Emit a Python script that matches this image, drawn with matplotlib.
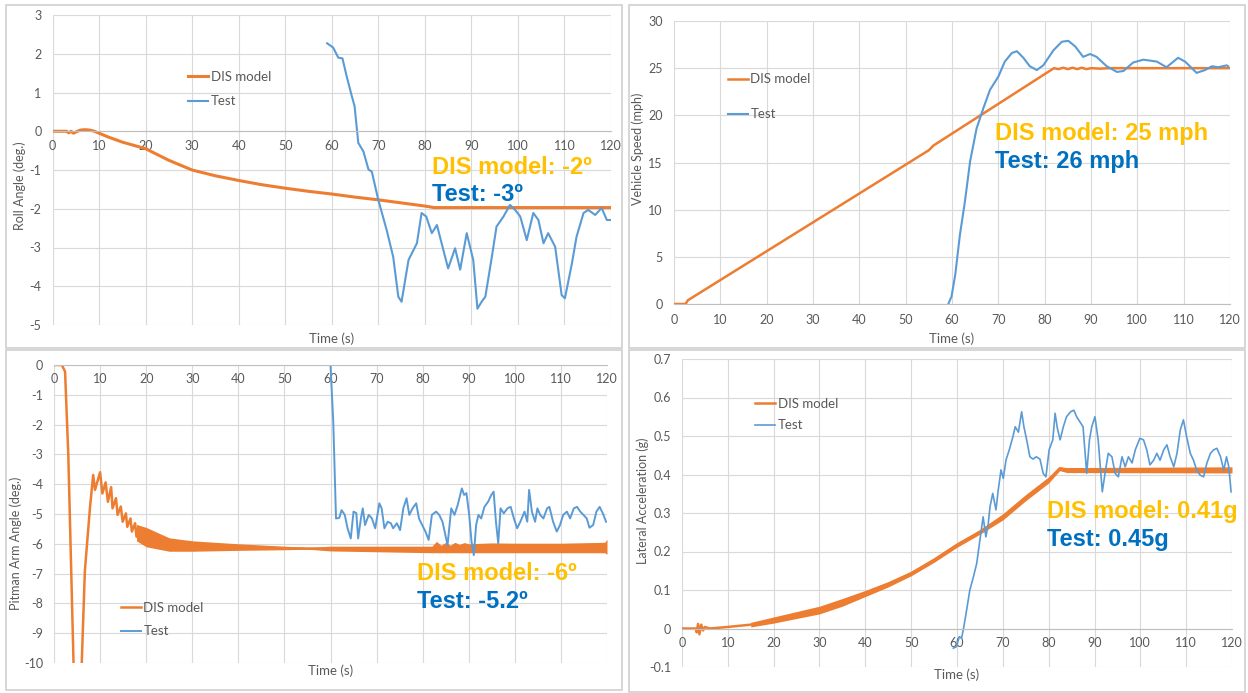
import matplotlib.pyplot as plt
from matplotlib.patches import Rectangle

plt.rcParams['font.family'] = ['Lato', 'DejaVu Sans']
plt.rcParams['axes.unicode_minus'] = False

W, H = 1248, 693
DIS_COLOR = '#ED7D31'
TEST_COLOR = '#5B9BD5'
GOLD = '#FFC000'
BLUE = '#0070C0'
GRAY = '#595959'

time_ticks = list(range(0, 121, 10))

# --- roll angle (deg.)
roll_dis_t = [0, 3, 3.5, 4, 4.5, 5, 6, 7, 8, 9, 10, 12, 15, 20, 25, 30, 35, 40, 45, 50, 55,
              60, 65, 70, 75, 80, 82, 120]
roll_dis = [0, 0, -0.04, 0.0, -0.05, -0.02, 0.03, 0.04, 0.03, 0.0, -0.05, -0.15, -0.28,
            -0.45, -0.75, -1.0, -1.15, -1.27, -1.38, -1.47, -1.55, -1.62, -1.70, -1.77,
            -1.85, -1.93, -1.97, -1.97]
roll_test_t = [59.0, 60.3, 61.4, 62.3, 63.2, 64.3, 64.9, 65.7, 66.8, 67.9, 68.6, 70.0, 71.8,
               73.2, 74.3, 75.0, 76.5, 78.3, 79.3, 80.3, 81.5, 82.6, 85.0, 86.5, 87.6, 89.0,
               90.4, 91.3, 92.2, 93.0, 94.4, 95.4, 96.9, 98.3, 99.4, 100.5, 101.9, 103.3,
               104.4, 105.5, 106.5, 108.0, 109.4, 110.1, 111.6, 112.6, 114.1, 115.1, 116.6,
               118.0, 119.1, 119.8]
roll_test = [2.27, 2.16, 1.90, 1.88, 1.42, 0.91, 0.65, -0.30, -0.52, -0.99, -1.04, -1.77,
             -2.55, -3.24, -4.27, -4.40, -3.32, -2.89, -2.11, -2.20, -2.63, -2.42, -3.54,
             -3.02, -3.57, -2.63, -3.32, -4.58, -4.40, -4.27, -3.24, -2.46, -2.20, -1.90,
             -2.03, -2.20, -2.81, -2.11, -2.29, -2.89, -2.63, -2.98, -4.23, -4.31, -3.41,
             -2.72, -2.11, -2.03, -2.16, -1.98, -2.29, -2.29]

# --- vehicle speed (mph)
speed_dis_t = [0, 2.5, 3, 55, 56, 82, 83, 84, 85, 86, 87, 88, 89, 90, 92, 94, 96, 120]
speed_dis = [0, 0, 0.4, 16.3, 16.8, 25.0, 24.9, 25.05, 24.9, 25.05, 24.9, 25.05, 24.9,
             25.0, 24.95, 25.0, 25.0, 25.0]
speed_test_t = [59.2, 59.9, 60.7, 61.7, 62.8, 63.9, 65.3, 66.8, 68.2, 70.0, 71.4, 72.9, 74.0,
                75.4, 76.8, 78.3, 79.7, 81.9, 83.7, 85.1, 86.6, 88.3, 89.8, 91.2, 93.4, 95.6,
                97.0, 99.1, 101.3, 104.2, 106.3, 108.8, 110.3, 112.8, 114.6, 116.1, 117.5,
                119.3, 119.6]
speed_test = [0, 0.8, 3.1, 7.3, 10.9, 15.1, 18.6, 20.8, 22.7, 24.1, 25.7, 26.6, 26.8, 26.1,
              25.2, 24.8, 25.3, 26.9, 27.8, 27.9, 27.3, 26.2, 26.5, 26.2, 25.2, 24.6, 24.7,
              25.6, 25.9, 25.7, 25.1, 26.1, 25.7, 24.5, 24.8, 25.2, 25.1, 25.3, 25.2]

# --- pitman arm angle (deg.)
pitman_dis_t = [0, 1.7, 2.4, 3.1, 4.4, 5.8, 6.7, 7.8, 8.5, 8.9, 10.0, 10.5, 11.2, 11.7,
                12.4, 12.7, 13.45, 13.8, 14.5, 14.9, 15.6, 15.9, 16.6, 16.9, 17.6, 17.9,
                20, 25, 30, 40, 50, 60, 82, 120]
pitman_dis = [0, 0, -0.22, -3.0, -11, -11, -6.9, -4.8, -3.69, -4.19, -3.60, -4.31, -3.94,
              -4.59, -4.10, -4.81, -4.47, -5.03, -4.75, -5.26, -4.98, -5.43, -5.15, -5.59,
              -5.31, -5.76, -5.75, -6.0, -6.08, -6.12, -6.15, -6.17, -6.2, -6.15]
pitman_band_t = [17.9, 20, 25, 30, 40, 50, 55, 60, 82, 83, 84, 85, 86, 87, 88, 89, 90, 95,
                 100, 110, 119.5, 120]
pitman_band_hi = [-5.35, -5.45, -5.8, -5.9, -6.0, -6.08, -6.12, -6.08, -6.08, -5.92, -6.05,
                  -5.95, -6.05, -5.95, -6.02, -5.96, -6.0, -5.97, -5.98, -5.98, -5.95, -5.85]
pitman_band_lo = [-5.9, -6.1, -6.25, -6.25, -6.22, -6.2, -6.18, -6.24, -6.3, -6.3, -6.3,
                  -6.3, -6.3, -6.3, -6.3, -6.3, -6.3, -6.3, -6.3, -6.3, -6.3, -6.35]
pitman_test_t = [59.9, 60.6, 61.0, 61.2, 61.9, 62.4, 63.1, 63.7, 64.4, 65.0, 65.6, 66.0,
                 66.6, 67.0, 67.5, 68.3, 69.0, 69.7, 70.6, 71.1, 71.7, 72.4, 73.1, 73.6,
                 74.4, 75.1, 75.8, 76.5, 77.1, 77.8, 78.6, 79.2, 79.9, 80.6, 81.3, 82.0,
                 82.9, 83.6, 84.3, 85.4, 86.2, 86.9, 87.6, 88.5, 89.0, 89.5, 90.1, 90.6,
                 91.1, 91.6, 92.1, 92.7, 93.4, 94.2, 94.9, 95.4, 95.9, 96.4, 96.9, 97.6,
                 98.4, 99.1, 99.8, 100.5, 101.2, 102.1, 102.7, 103.1, 103.7, 104.4, 104.9,
                 105.5, 106.2, 107.0, 107.5, 108.3, 109.1, 109.8, 110.5, 111.3, 112.0,
                 112.8, 113.5, 114.2, 114.9, 115.6, 116.2, 117.0, 117.7, 118.4, 119.1, 119.8]
pitman_test = [0.3, -1.9, -4.1, -5.15, -5.13, -4.87, -5.03, -5.48, -5.82, -4.92, -4.97,
               -5.82, -5.15, -4.81, -5.37, -5.03, -5.15, -5.48, -4.64, -4.81, -5.48, -5.26,
               -5.31, -5.48, -5.31, -5.54, -4.81, -4.47, -5.03, -4.81, -4.64, -5.15, -5.37,
               -5.59, -5.87, -5.03, -4.92, -5.03, -5.26, -6.04, -4.81, -5.03, -4.70, -4.14,
               -4.36, -4.30, -5.03, -5.93, -6.38, -5.37, -5.03, -5.15, -4.76, -4.59, -4.36,
               -4.25, -5.26, -5.98, -4.81, -4.98, -4.81, -4.76, -5.15, -5.48, -5.26, -4.92,
               -5.26, -4.19, -4.92, -5.26, -4.81, -5.03, -5.15, -4.81, -4.76, -5.26, -5.59,
               -5.37, -5.03, -4.92, -5.15, -4.81, -4.76, -4.92, -5.03, -5.15, -5.46, -5.37,
               -4.92, -4.76, -4.98, -5.26]

# --- lateral acceleration (g)
lat_dis_t = [0, 3, 3.2, 3.5, 3.8, 4.2, 4.6, 5, 6, 10, 15, 20, 25, 30, 35, 40, 45, 50, 55,
             60, 65, 70, 75, 80, 82.4, 84, 120]
lat_dis = [0, 0, -0.01, 0.012, -0.015, 0.01, -0.005, 0.004, 0, 0.004, 0.01, 0.022, 0.035,
           0.048, 0.068, 0.091, 0.115, 0.143, 0.178, 0.217, 0.251, 0.29, 0.34, 0.386,
           0.416, 0.412, 0.412]
lat_band_t = [15, 20, 25, 30, 35, 40, 45, 50, 55, 60, 65, 70, 75, 80, 82.4, 84, 120]
lat_band_lo = [0.004, 0.014, 0.026, 0.038, 0.058, 0.083, 0.108, 0.137, 0.172, 0.211, 0.245,
               0.282, 0.332, 0.378, 0.41, 0.405, 0.404]
lat_band_hi = [0.016, 0.03, 0.044, 0.058, 0.078, 0.099, 0.122, 0.149, 0.184, 0.223, 0.257,
               0.298, 0.348, 0.394, 0.42, 0.418, 0.42]
lat_test_t = [59.2, 59.9, 60.5, 61.0, 61.5, 62.1, 62.8, 63.6, 64.3, 65.0, 65.7, 66.3, 66.8,
              67.2, 67.8, 68.5, 69.0, 69.6, 70.1, 70.7, 71.4, 72.2, 72.7, 73.4, 74.1, 74.6,
              75.2, 75.9, 76.6, 77.3, 78.1, 78.8, 79.4, 80.1, 80.9, 81.4, 81.9, 82.5, 83.2,
              83.9, 84.8, 85.5, 86.1, 86.8, 87.5, 88.3, 88.9, 89.4, 90.1, 90.8, 91.7, 92.3,
              93.0, 93.8, 94.5, 95.2, 96.0, 96.7, 97.4, 98.2, 98.9, 99.9, 100.7, 101.4,
              102.1, 102.9, 103.6, 104.3, 105.1, 105.8, 106.5, 107.3, 108.0, 108.7, 109.4,
              110.1, 110.9, 111.6, 112.3, 113.1, 113.8, 114.5, 115.3, 116.0, 116.7, 117.5,
              118.2, 118.8, 119.3, 119.8]
lat_test = [-0.051, -0.047, -0.021, -0.025, 0.005, 0.048, 0.10, 0.135, 0.169, 0.23, 0.29,
            0.238, 0.27, 0.316, 0.351, 0.308, 0.36, 0.412, 0.39, 0.438, 0.464, 0.498, 0.524,
            0.51, 0.563, 0.524, 0.49, 0.446, 0.44, 0.446, 0.44, 0.403, 0.394, 0.464, 0.49,
            0.559, 0.52, 0.49, 0.524, 0.55, 0.563, 0.567, 0.55, 0.537, 0.524, 0.403, 0.49,
            0.524, 0.55, 0.49, 0.355, 0.403, 0.455, 0.446, 0.403, 0.394, 0.446, 0.42, 0.446,
            0.43, 0.464, 0.494, 0.49, 0.464, 0.425, 0.437, 0.455, 0.437, 0.464, 0.477, 0.446,
            0.42, 0.455, 0.515, 0.542, 0.498, 0.455, 0.437, 0.411, 0.398, 0.394, 0.429,
            0.455, 0.464, 0.468, 0.446, 0.411, 0.446, 0.42, 0.355]


fig = plt.figure(figsize=(W / 100, H / 100), dpi=100)
fig.patch.set_facecolor('white')

# panel frames
for (x0, y0, x1, y1) in [(6, 5, 622, 348), (629, 5, 1245, 348),
                         (6, 350, 622, 690), (629, 350, 1245, 692)]:
    fig.patches.append(Rectangle((x0 / W, 1 - y1 / H), (x1 - x0) / W, (y1 - y0) / H,
                                 transform=fig.transFigure, fill=False,
                                 edgecolor='#D0D0D0', linewidth=1.2))


def make_axes(left, top, right, bottom):
    return fig.add_axes([left / W, 1 - bottom / H, (right - left) / W, (bottom - top) / H])


def style(ax, ylim, yticks, ylabels, ylabel, ylabel_y, ylabel_x, xpad, time_y=-0.005):
    ax.set_xlim(0, 120)
    ax.set_ylim(*ylim)
    ax.set_xticks(time_ticks)
    ax.set_yticks(yticks)
    ax.set_yticklabels(ylabels)
    ax.grid(True, color='#D9D9D9', linewidth=0.8)
    ax.set_axisbelow(True)
    for s in ['top', 'right', 'left']:
        ax.spines[s].set_visible(False)
    ax.spines['bottom'].set_position(('data', 0))
    ax.spines['bottom'].set_color('#BFBFBF')
    ax.tick_params(axis='both', length=0, labelsize=9, labelcolor=GRAY)
    ax.tick_params(axis='y', pad=8)
    ax.tick_params(axis='x', pad=xpad)
    ax.text(ylabel_x, ylabel_y, ylabel, rotation=90, ha='center', va='center',
            fontsize=9, color=GRAY, transform=ax.transAxes)
    ax.text(0.5, time_y, 'Time (s)', ha='center', va='top', fontsize=9.5, color=GRAY,
            transform=ax.transAxes)


def legend(ax, x, y, spacing):
    ax.legend(loc='upper left', bbox_to_anchor=(x, y), frameon=False, fontsize=9.5,
              handlelength=1.5, handletextpad=0.2, labelspacing=spacing, borderpad=0,
              borderaxespad=0, labelcolor=GRAY)


def notes(ax, x, y1, y2, t1, t2):
    ax.text(x, y1, t1, color=GOLD, fontsize=17, fontweight='bold',
            family='Liberation Sans', va='center')
    ax.text(x, y2, t2, color=BLUE, fontsize=17, fontweight='bold',
            family='Liberation Sans', va='center')


# roll angle
ax1 = make_axes(52.5, 15, 611, 325)
ax1.plot(roll_dis_t, roll_dis, color=DIS_COLOR, lw=2.2, label='DIS model')
ax1.plot(roll_test_t, roll_test, color=TEST_COLOR, lw=1.5, label='Test')
style(ax1, (-5, 3), range(-5, 4), [str(v) for v in range(-5, 4)],
      'Roll Angle (deg.)', 0.45, -0.058, 6, -0.025)
legend(ax1, 0.243, 0.82, 0.95)
notes(ax1, 81.5, -0.94, -1.64, 'DIS model: -2º', 'Test: -3º')

# vehicle speed
ax2 = make_axes(674, 21, 1230, 304)
ax2.plot(speed_dis_t, speed_dis, color=DIS_COLOR, lw=1.8, label='DIS model')
ax2.plot(speed_test_t, speed_test, color=TEST_COLOR, lw=1.5, label='Test')
style(ax2, (0, 30), range(0, 31, 5), [str(v) for v in range(0, 31, 5)],
      'Vehicle Speed (mph)', 0.55, -0.065, 7, -0.1)
legend(ax2, 0.097, 0.815, 1.75)
notes(ax2, 69.3, 18.1, 15.1, 'DIS model: 25 mph', 'Test: 26 mph')

# pitman arm angle
ax3 = make_axes(54, 365, 607, 663)
ax3.fill_between(pitman_band_t, pitman_band_lo, pitman_band_hi, color=DIS_COLOR, lw=0)
ax3.plot(pitman_dis_t, pitman_dis, color=DIS_COLOR, lw=1.8, label='DIS model')
ax3.plot(pitman_test_t, pitman_test, color=TEST_COLOR, lw=1.4, label='Test')
style(ax3, (-10, 0), range(-10, 1), [str(v) for v in range(-10, 1)],
      'Pitman Arm Angle (deg.)', 0.40, -0.069, 6)
legend(ax3, 0.121, 0.205, 0.85)
notes(ax3, 78.8, -7.01, -7.95, 'DIS model: -6º', 'Test: -5.2º')

# lateral acceleration
ax4 = make_axes(682, 359, 1232, 667)
ax4.fill_between(lat_band_t, lat_band_lo, lat_band_hi, color=DIS_COLOR, lw=0)
ax4.plot(lat_dis_t, lat_dis, color=DIS_COLOR, lw=1.8, label='DIS model')
ax4.plot(lat_test_t, lat_test, color=TEST_COLOR, lw=1.2, label='Test')
lat_ticks = [-0.1, 0, 0.1, 0.2, 0.3, 0.4, 0.5, 0.6, 0.7]
style(ax4, (-0.1, 0.7), lat_ticks, ['-0.1', '0', '0.1', '0.2', '0.3', '0.4', '0.5', '0.6', '0.7'],
      'Lateral Acceleration (g)', 0.54, -0.071, 6)
legend(ax4, 0.133, 0.873, 0.7)
notes(ax4, 79.6, 0.305, 0.23, 'DIS model: 0.41g', 'Test: 0.45g')

fig.savefig('out.png', dpi=100)
